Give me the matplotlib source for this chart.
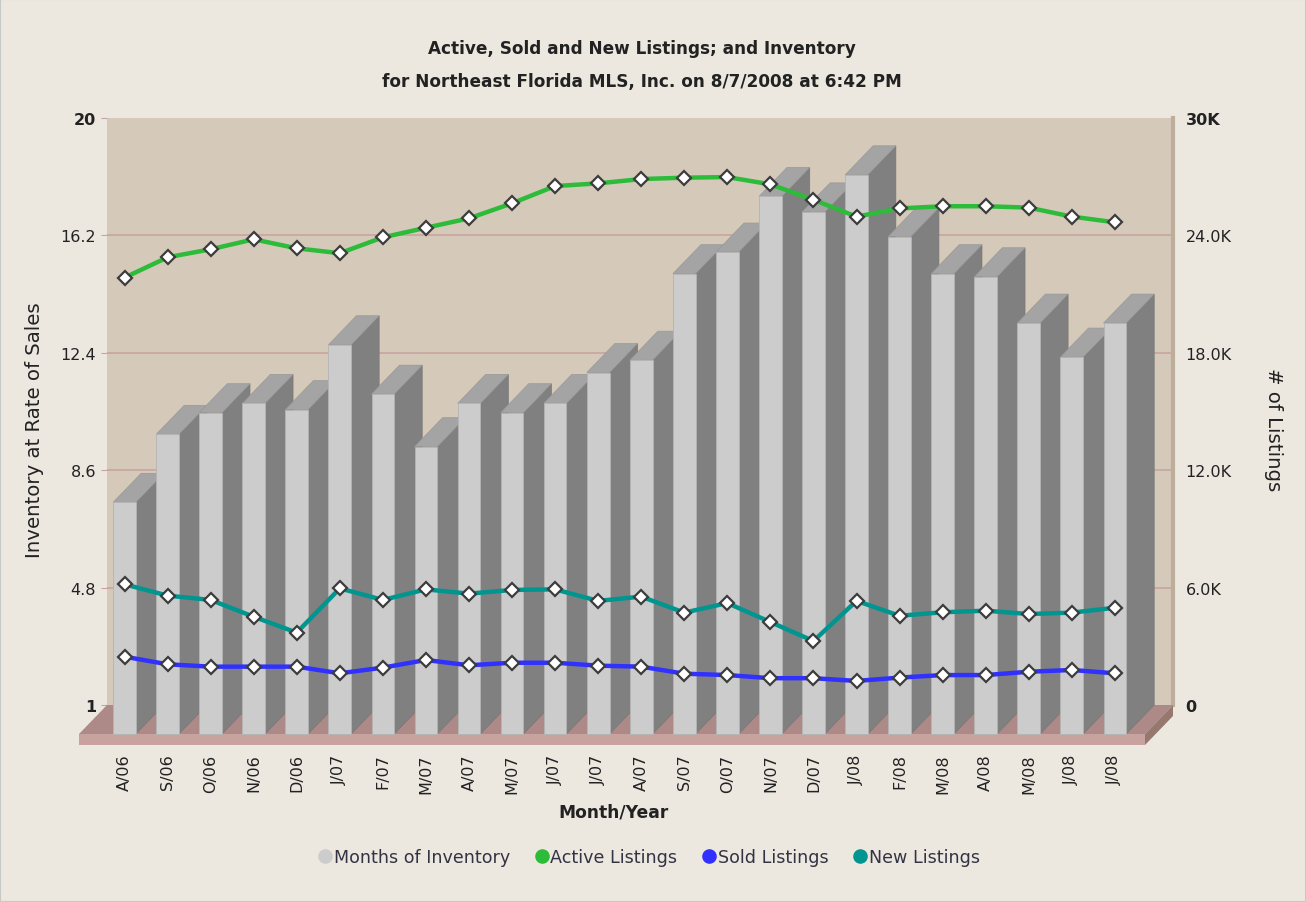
import matplotlib
matplotlib.use('Agg')
import matplotlib.pyplot as plt
from matplotlib.patches import Polygon, Rectangle
from matplotlib.lines import Line2D

# data
months = ['A/06', 'S/06', 'O/06', 'N/06', 'D/06', 'J/07', 'F/07', 'M/07',
          'A/07', 'M/07', 'J/07', 'J/07', 'A/07', 'S/07', 'O/07', 'N/07',
          'D/07', 'J/08', 'F/08', 'M/08', 'A/08', 'M/08', 'J/08', 'J/08']
months_inventory = [8.5, 10.7, 11.4, 11.7, 11.5, 13.6, 12.0, 10.3, 11.7, 11.4, 11.7, 12.7,
                    13.1, 15.9, 16.6, 18.4, 17.9, 19.1, 17.1, 15.9, 15.8, 14.3, 13.2, 14.3]
active = [21840, 22880, 23290, 23800, 23340, 23090, 23900, 24390, 24870, 25640, 26520, 26660,
          26880, 26950, 26980, 26610, 25820, 24960, 25380, 25490, 25490, 25420, 24960, 24670]
sold = [2470, 2080, 1960, 1960, 1960, 1620, 1910, 2300, 2030, 2160, 2160, 2010,
        1960, 1600, 1530, 1370, 1370, 1230, 1400, 1530, 1530, 1700, 1790, 1620]
new = [6170, 5590, 5370, 4510, 3700, 5960, 5370, 5910, 5690, 5880, 5910, 5320,
       5540, 4720, 5210, 4240, 3270, 5320, 4560, 4740, 4820, 4650, 4720, 4970]

left_ticks = [1, 4.8, 8.6, 12.4, 16.2, 20]
left_labels = ['1', '4.8', '8.6', '12.4', '16.2', '20']
right_ticks = [0, 6000, 12000, 18000, 24000, 30000]
right_labels = ['0', '6.0K', '12.0K', '18.0K', '24.0K', '30K']

W, H = 1306, 903
BG = '#ece8e0'
WALL = '#d5c9b9'
GRID = '#c9a3a0'
TXT = '#222222'

fig = plt.figure(figsize=(W / 100, H / 100), dpi=100, facecolor=BG)


def box(x0, y0, w, h):
    # pixel box (top-left origin) -> figure fraction
    return [x0 / W, 1 - (y0 + h) / H, w / W, h / H]


# back wall, front plane (bars) and the line layer
back = fig.add_axes(box(107, 119, 1066, 587), facecolor=WALL)
front = fig.add_axes(box(79, 148, 1066, 587))
front.patch.set_alpha(0)

xl, xr = -1.057, 23.70
back.set_xlim(xl, xr)
back.set_ylim(1, 20)
back.set_xticks([])
back.set_yticks(left_ticks, labels=left_labels)
back.tick_params(axis='y', length=4, color=GRID, pad=4, labelsize=11.5, labelcolor=TXT)
for t in back.get_yticklabels():
    if t.get_text() in ('1', '20'):
        t.set_fontweight('bold')
for v in left_ticks[1:-1]:
    back.axhline(v, color=GRID, lw=1.2, zorder=0)
for s in ['top', 'left', 'bottom']:
    back.spines[s].set_visible(False)
back.spines['right'].set_color('#bcae9b')
back.spines['right'].set_linewidth(3)

back_r = back.twinx()
back_r.set_ylim(0, 30000)
back_r.set_yticks(right_ticks, labels=right_labels)
back_r.tick_params(axis='y', length=0, pad=9, labelsize=11.5, labelcolor=TXT)
for t in back_r.get_yticklabels():
    if t.get_text() in ('0', '30K'):
        t.set_fontweight('bold')
for s in back_r.spines.values():
    s.set_visible(False)

front.set_xlim(xl, xr)
front.set_ylim(1, 20)
for s in front.spines.values():
    s.set_visible(False)
front.set_yticks([])
x = list(range(len(months)))
front.set_xticks(x, labels=months, rotation=90)
front.tick_params(axis='x', length=0, pad=14, labelsize=11.5, labelcolor=TXT)

# depth offset of the 3-D effect in front-axes data units
ddx = 28 / (1066 / (xr - xl))
ddy = 29 / (587 / 19)
slab = 11 / (587 / 19)

# floor
front.add_patch(Polygon([(xl, 1), (xr, 1), (xr + ddx, 1 + ddy), (xl + ddx, 1 + ddy)],
                        closed=True, fc='#ad8a87', ec='none', clip_on=False, zorder=1))
front.add_patch(Rectangle((xl, 1 - slab), xr - xl, slab, fc='#c8a29e', ec='none',
                          clip_on=False, zorder=1))
front.add_patch(Polygon([(xr, 1 - slab), (xr + ddx, 1 - slab + ddy), (xr + ddx, 1 + ddy), (xr, 1)],
                        closed=True, fc='#96786f', ec='none', clip_on=False, zorder=1))

# 3-D bars, left to right so each front face covers the previous side face
bw = 0.527
for i, v in enumerate(months_inventory):
    x0, x1 = i - bw / 2, i + bw / 2
    z = 2 + i * 0.01
    front.add_patch(Polygon([(x1, 1), (x1 + ddx, 1 + ddy), (x1 + ddx, v + ddy), (x1, v)],
                            closed=True, fc='#808080', ec='#777777', lw=0.5, clip_on=False, zorder=z))
    front.add_patch(Polygon([(x0, v), (x1, v), (x1 + ddx, v + ddy), (x0 + ddx, v + ddy)],
                            closed=True, fc='#a4a4a4', ec='#999999', lw=0.5, clip_on=False, zorder=z))
    front.add_patch(Rectangle((x0, 1), bw, v - 1, fc='#cccccc', ec='#b4b4b4', lw=0.6,
                              clip_on=False, zorder=z + 0.005))

# listing lines: x on the front plane, y on the back (labelled) scale
lax = fig.add_axes(box(79, 119, 1066, 587))
lax.patch.set_alpha(0)
lax.set_xlim(xl, xr)
lax.set_ylim(0, 30000)
lax.axis('off')
mk = dict(marker='D', markersize=7.5, markerfacecolor='white', markeredgecolor='#3c3c3c',
          markeredgewidth=1.6, lw=3.2, clip_on=False)
lax.plot(x, active, color='#2dbb3a', **mk)
lax.plot(x, new, color='#00968f', **mk)
lax.plot(x, sold, color='#3030ff', **mk)

# titles and labels
fig.text(642 / W, 1 - 49 / H, 'Active, Sold and New Listings; and Inventory',
         ha='center', va='center', fontsize=12.2, fontweight='bold', color=TXT)
fig.text(642 / W, 1 - 82 / H, 'for Northeast Florida MLS, Inc. on 8/7/2008 at 6:42 PM',
         ha='center', va='center', fontsize=12.2, fontweight='bold', color=TXT)
fig.text(613 / W, 1 - 813 / H, 'Month/Year', ha='center', va='center',
         fontsize=12.3, fontweight='bold', color=TXT)
fig.text(35 / W, 1 - 430 / H, 'Inventory at Rate of Sales', ha='center', va='center',
         rotation=90, fontsize=14.2, color=TXT)
fig.text(1273 / W, 1 - 430 / H, '# of Listings', ha='center', va='center',
         rotation=270, fontsize=14.2, color=TXT)

handles = [Line2D([], [], ls='none', marker='o', markersize=10.5, markeredgecolor='none', markerfacecolor=c)
           for c in ['#cccccc', '#2dbb3a', '#3030ff', '#00968f']]
fig.legend(handles, ['Months of Inventory', 'Active Listings', 'Sold Listings', 'New Listings'],
           loc='center', bbox_to_anchor=(648 / W, 1 - 858 / H), ncol=4, frameon=False,
           fontsize=12.6, handletextpad=0.0, columnspacing=1.3, handlelength=1.0,
           labelcolor='#333344')

fig.add_artist(Rectangle((0, 0), 1, 1, transform=fig.transFigure, fill=False,
                         ec='#c8c8c8', lw=1.5))

fig.savefig('out.png', dpi=100, facecolor=BG)
